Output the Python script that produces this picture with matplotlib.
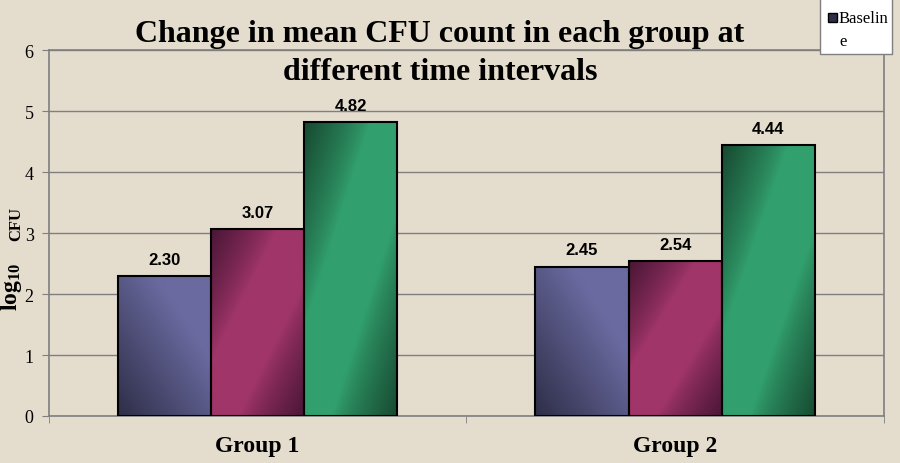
import matplotlib
matplotlib.use("Agg")
import matplotlib.pyplot as plt
import matplotlib.colors as mcolors
from matplotlib.patches import Rectangle
import numpy as np

# data
groups = ["Group 1", "Group 2"]
series_names = ["Baseline", "Interval 2", "Interval 3"]
baseline = [2.30, 2.45]
interval_2 = [3.07, 2.54]
interval_3 = [4.82, 4.44]
yticks = [0, 1, 2, 3, 4, 5, 6]

bg = "#E4DCCD"
# (dark, light) pairs for the gradient fills
shades = [("#2E2E48", "#6A6AA0"), ("#4A1636", "#A03569"), ("#174A31", "#32A06E")]

plt.rcParams["mathtext.fontset"] = "custom"
plt.rcParams["mathtext.rm"] = "Liberation Serif"
plt.rcParams["mathtext.bf"] = "Liberation Serif:bold"

W, H = 900, 464
fig = plt.figure(figsize=(9, 4.64), dpi=100, facecolor=bg)
ax = fig.add_axes([0.0544, 0.1013, 0.9276, 0.7887])
ax.set_facecolor(bg)

width = 0.223
x = np.arange(len(groups))
all_vals = [baseline, interval_2, interval_3]


def gradient_fill(bar, dark, light, kind):
    bx, by = bar.get_x(), bar.get_y()
    bw, bh = bar.get_width(), bar.get_height()
    n = 200
    u = np.linspace(0, 1, n)
    U, V = np.meshgrid(u, u)  # V: 0 at bottom (origin lower)
    if kind == 0:
        # dark bottom-left -> light top-right
        t = np.clip((U + V) / 1.4, 0, 1)
    else:
        # dark at top-left and bottom-right corners
        d = np.abs(U - V)
        t = 1 - np.clip((d - 0.3) / 0.7, 0, 1) ** 0.8
    cmap = mcolors.LinearSegmentedColormap.from_list("g", [dark, light])
    im = ax.imshow(t, cmap=cmap, origin="lower", aspect="auto",
                   extent=[bx, bx + bw, by, by + bh], zorder=2,
                   interpolation="bilinear", vmin=0, vmax=1)
    im.set_clip_path(bar)


for i, vals in enumerate(all_vals):
    bars = ax.bar(x + (i - 1) * width, vals, width, facecolor="none",
                  edgecolor="black", linewidth=1.5, zorder=3,
                  label=series_names[i])
    for b in bars:
        gradient_fill(b, shades[i][0], shades[i][1], i)
        ax.text(b.get_x() + b.get_width() / 2, b.get_height() + 0.15,
                f"{b.get_height():.2f}", ha="center", va="bottom",
                fontsize=12, fontweight="bold", family="Liberation Sans",
                zorder=4)

ax.set_xlim(-0.5, 1.5)
ax.set_ylim(0, 6)
ax.set_yticks(yticks)
ax.set_yticklabels([str(v) for v in yticks], family="Liberation Serif",
                   fontsize=13)
ax.yaxis.grid(True, color="#7F7F7F", linewidth=1)
ax.set_axisbelow(True)

ax.set_xticks(x)
ax.set_xticklabels(groups, family="Liberation Serif", fontsize=17,
                   fontweight="bold")
ax.tick_params(axis="x", which="major", length=0, pad=14)
ax.set_xticks([-0.5, 0.5, 1.5], minor=True)
ax.tick_params(axis="x", which="minor", length=5, color="#7F7F7F")
ax.tick_params(axis="y", length=5, color="#7F7F7F", pad=6)

for s in ["left", "bottom", "right", "top"]:
    ax.spines[s].set_color("#7F7F7F")
    ax.spines[s].set_linewidth(1.2)

fig.text(0.489, 1 - 53.5 / H, "Change in mean CFU count in each group at\ndifferent time intervals",
         ha="center", va="center", family="Liberation Serif",
         fontweight="bold", fontsize=23, linespacing=1.38)

fig.text(12 / W, 1 - 287 / H, r"log$\mathbf{_{10}}$", rotation=90,
         ha="center", va="center", family="Liberation Serif",
         fontweight="bold", fontsize=17)
fig.text(16 / W, 1 - 224 / H, "CFU", rotation=90,
         ha="center", va="center", family="Liberation Serif",
         fontweight="bold", fontsize=12)

# legend box (only the first entry is visible in the original, wrapped)
fig.add_artist(Rectangle((820 / W, 1 - 55 / H), 72 / W, 57 / H,
                         transform=fig.transFigure, facecolor="white",
                         edgecolor="#7F7F7F", linewidth=1, zorder=5))
fig.add_artist(Rectangle((828 / W, 1 - 23 / H), 9 / W, 9 / H,
                         transform=fig.transFigure, facecolor=shades[0][0],
                         edgecolor="black", linewidth=1, zorder=6))
fig.text(839 / W, 1 - 11 / H, "Baselin\ne", ha="left", va="top",
         family="Liberation Serif", fontsize=12, linespacing=1.55, zorder=6)

fig.savefig("out.png", dpi=100, facecolor=bg)
